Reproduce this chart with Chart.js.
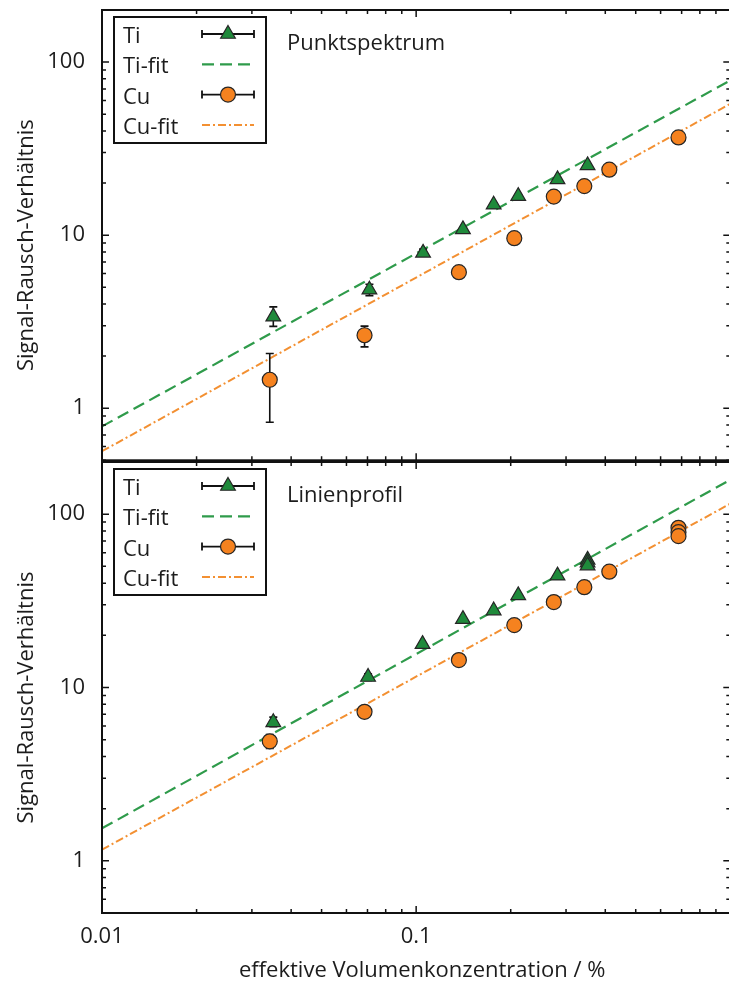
<!DOCTYPE html>
<html>
<head>
<meta charset="utf-8">
<script src="https://cdn.jsdelivr.net/npm/chart.js@4.4.1/dist/chart.umd.min.js"></script>
<style>
    html, body { margin: 0; padding: 0; background: #fff; width: 729px; height: 981px; overflow: hidden; position: relative; }
    #topChart { position: absolute; left: 0; top: 0; }
    #bottomChart { position: absolute; left: 0; top: 452px; }
</style>
</head>
<body>
<canvas id="topChart" width="740" height="470"></canvas>
<canvas id="bottomChart" width="740" height="532"></canvas>
<script>
// ---- data ----
const fitX = [0.01, 1];

// Punktspektrum
const punktTiX = [0.0351, 0.0710, 0.1052, 0.1409, 0.1765, 0.2113, 0.2818, 0.3513];
const punktTi = [3.38, 4.84, 7.9, 10.8, 15.0, 16.8, 21.0, 25.3];
const punktTiLo = [2.97, 4.47, 7.55, null, null, null, null, null];
const punktTiHi = [3.85, 5.2, 8.3, null, null, null, null, null];
const punktCuX = [0.0342, 0.0685, 0.1368, 0.2053, 0.2743, 0.3430, 0.4120, 0.6840];
const punktCu = [1.46, 2.64, 6.11, 9.6, 16.7, 19.2, 23.9, 36.7];
const punktCuLo = [0.83, 2.26, null, null, null, null, null, null];
const punktCuHi = [2.07, 2.98, null, null, null, null, null, null];
const punktTiFit = [0.785, 78.4];
const punktCuFit = [0.564, 57.4];

// Linienprofil
const linTiX = [0.0351, 0.0703, 0.1048, 0.1409, 0.1765, 0.2113, 0.2818, 0.3513, 0.3513, 0.3513];
const linTi = [6.3, 11.5, 17.8, 24.8, 27.8, 34.0, 44.2, 54.5, 52.5, 50.5];
const linTiLo = [5.95, 11.0, null, null, null, null, null, null, null, null];
const linTiHi = [6.75, 12.0, null, null, null, null, null, null, null, null];
const linCuX = [0.0342, 0.0685, 0.1368, 0.2053, 0.2743, 0.3430, 0.4120, 0.684, 0.684, 0.684];
const linCu = [4.89, 7.24, 14.4, 22.9, 31.1, 37.9, 46.6, 83.4, 78.7, 74.7];
const linCuLo = [4.45, 6.7, null, null, null, null, null, null, null, null];
const linCuHi = [5.35, 7.8, null, null, null, null, null, null, null, null];
const linTiFit = [1.54, 158];
const linCuFit = [1.16, 115];

// axes
const xTickValues = [0.01, 0.02, 0.03, 0.04, 0.05, 0.06, 0.07, 0.08, 0.09,
                     0.1, 0.2, 0.3, 0.4, 0.5, 0.6, 0.7, 0.8, 0.9, 1];
const xTickLabels = { '0.01': '0.01', '0.1': '0.1' };
const yTickValues = [0.5, 0.6, 0.7, 0.8, 0.9, 1, 2, 3, 4, 5, 6, 7, 8, 9,
                     10, 20, 30, 40, 50, 60, 70, 80, 90, 100, 200];
const yTickLabels = { '1': '1', '10': '10', '100': '100' };
const legendOrder = ['Ti', 'Ti-fit', 'Cu', 'Cu-fit'];
const xTitle = 'effektive Volumenkonzentration / %';
const yTitle = 'Signal-Rausch-Verhältnis';

// colours
const TI_FILL = '#1f8a3b';
const TI_LINE = '#2f9b4b';
const CU_FILL = '#f5821f';
const CU_LINE = '#f39032';
const EDGE = '#262626';
const INK = '#1c1c1c';
const FONT = '"Open Sans", "Noto Sans", sans-serif';

Chart.defaults.font.family = FONT;
Chart.defaults.font.size = 22;
Chart.defaults.color = INK;

const isDecade = v => Math.abs(Math.log10(v) - Math.round(Math.log10(v))) < 1e-6;
const toPoints = (xs, ys) => xs.map((x, i) => ({ x: x, y: ys[i] }));

/**
 * Error bars drawn just before the markers of a dataset
 */
const errorBarPlugin = {
    id: 'errorBars',
    beforeDatasetDraw(chart, args) {
        const ds = chart.data.datasets[args.index];
        if (!ds.errLo) return;
        const { ctx, scales: { x, y } } = chart;
        ctx.save();
        ctx.strokeStyle = '#111';
        ctx.lineWidth = 1.6;
        ctx.beginPath();
        ds.data.forEach((p, i) => {
            if (ds.errLo[i] == null) return;
            const px = x.getPixelForValue(p.x);
            const lo = y.getPixelForValue(ds.errLo[i]);
            const hi = y.getPixelForValue(ds.errHi[i]);
            ctx.moveTo(px, lo); ctx.lineTo(px, hi);
            ctx.moveTo(px - 4, lo); ctx.lineTo(px + 4, lo);
            ctx.moveTo(px - 4, hi); ctx.lineTo(px + 4, hi);
        });
        ctx.stroke();
        ctx.restore();
    }
};

/**
 * Frame with inward ticks on all four sides
 */
const framePlugin = {
    id: 'frameTicks',
    afterDatasetsDraw(chart) {
        const { ctx, chartArea: a, scales: { x, y } } = chart;
        ctx.save();
        ctx.strokeStyle = '#111';
        ctx.lineWidth = 1.5;
        ctx.beginPath();
        x.ticks.forEach(t => {
            const px = x.getPixelForValue(t.value);
            const len = isDecade(t.value) ? 7 : 4;
            ctx.moveTo(px, a.bottom); ctx.lineTo(px, a.bottom - len);
            ctx.moveTo(px, a.top); ctx.lineTo(px, a.top + len);
        });
        y.ticks.forEach(t => {
            const py = y.getPixelForValue(t.value);
            const len = isDecade(t.value) ? 7 : 4;
            ctx.moveTo(a.left, py); ctx.lineTo(a.left + len, py);
            ctx.moveTo(a.right, py); ctx.lineTo(a.right - len, py);
        });
        ctx.stroke();
        ctx.lineWidth = 2;
        ctx.strokeRect(a.left, a.top, a.right - a.left, a.bottom - a.top);
        ctx.restore();
    }
};

/**
 * Boxed legend (text left, sample right), panel caption and axis titles
 */
const legendPlugin = {
    id: 'boxLegend',
    afterDraw(chart, args, opts) {
        const { ctx, chartArea: a } = chart;
        const x0 = a.left + 12, y0 = a.top + 7, w = 152, h = 126;
        ctx.save();
        ctx.fillStyle = '#fff';
        ctx.fillRect(x0, y0, w, h);
        ctx.strokeStyle = '#111';
        ctx.lineWidth = 2;
        ctx.strokeRect(x0, y0, w, h);
        ctx.font = '22px ' + FONT;
        ctx.textBaseline = 'alphabetic';
        legendOrder.forEach((name, i) => {
            const ds = chart.data.datasets.find(d => d.label === name);
            const base = y0 + 26 + i * 30.3;
            ctx.fillStyle = INK;
            ctx.textAlign = 'left';
            ctx.fillText(name, x0 + 9, base);
            const cy = base - 9, sx1 = x0 + 88, sx2 = x0 + 140;
            ctx.beginPath();
            if (ds.showLine) {
                ctx.strokeStyle = ds.borderColor;
                ctx.lineWidth = ds.borderWidth;
                ctx.setLineDash(ds.borderDash);
                ctx.moveTo(sx1, cy); ctx.lineTo(sx2, cy);
                ctx.stroke();
                ctx.setLineDash([]);
            } else {
                ctx.strokeStyle = '#111';
                ctx.lineWidth = 1.8;
                ctx.moveTo(sx1, cy); ctx.lineTo(sx2, cy);
                ctx.moveTo(sx1, cy - 4); ctx.lineTo(sx1, cy + 4);
                ctx.moveTo(sx2, cy - 4); ctx.lineTo(sx2, cy + 4);
                ctx.stroke();
                ctx.fillStyle = ds.backgroundColor;
                ctx.strokeStyle = ds.borderColor;
                ctx.lineWidth = ds.borderWidth;
                Chart.helpers.drawPoint(ctx, {
                    pointStyle: ds.pointStyle, radius: ds.pointRadius,
                    borderWidth: ds.borderWidth, rotation: 0
                }, (sx1 + sx2) / 2, cy);
            }
        });
        // caption
        ctx.fillStyle = INK;
        ctx.textAlign = 'left';
        ctx.fillText(opts.caption, a.left + 185, a.top + 39.5);
        // y title, rotated
        ctx.save();
        ctx.translate(33, (a.top + a.bottom) / 2 + 10);
        ctx.rotate(-Math.PI / 2);
        ctx.textAlign = 'center';
        ctx.fillText(yTitle, 0, 0);
        ctx.restore();
        // x title (bottom panel only)
        if (opts.showX) {
            ctx.textAlign = 'center';
            ctx.fillText(xTitle, (a.left + a.right) / 2 + 6, a.bottom + 64);
        }
        ctx.restore();
    }
};

function makeAxes(showX) {
    return {
        x: {
            type: 'logarithmic',
            min: 0.01,
            max: 1,
            grid: { display: false, drawTicks: false },
            border: { display: false },
            afterBuildTicks: s => { s.ticks = xTickValues.map(v => ({ value: v })); },
            afterFit: s => {
                s.height = showX ? 71 : 0;
                s.paddingLeft = 0;
                s.paddingRight = 0;
            },
            ticks: {
                display: showX,
                autoSkip: false,
                maxRotation: 0,
                padding: 11,
                callback: v => xTickLabels[String(v)] || ''
            }
        },
        y: {
            type: 'logarithmic',
            min: 0.5,
            max: 200,
            grid: { display: false, drawTicks: false },
            border: { display: false },
            afterBuildTicks: s => { s.ticks = yTickValues.map(v => ({ value: v })); },
            afterFit: s => {
                s.width = 102;
                s.paddingTop = 0;
                s.paddingBottom = 0;
            },
            ticks: {
                autoSkip: false,
                padding: 17,
                callback: v => yTickLabels[String(v)] || ''
            }
        }
    };
}

function makePanel(canvasId, p) {
    return new Chart(document.getElementById(canvasId), {
        type: 'scatter',
        data: {
            datasets: [
                {
                    label: 'Ti', data: toPoints(p.tiX, p.ti), errLo: p.tiLo, errHi: p.tiHi,
                    pointStyle: 'triangle', pointRadius: 8.5, backgroundColor: TI_FILL,
                    borderColor: EDGE, borderWidth: 1.2, showLine: false, order: 1
                },
                {
                    label: 'Cu', data: toPoints(p.cuX, p.cu), errLo: p.cuLo, errHi: p.cuHi,
                    pointStyle: 'circle', pointRadius: 7.5, backgroundColor: CU_FILL,
                    borderColor: EDGE, borderWidth: 1.2, showLine: false, order: 1
                },
                {
                    label: 'Ti-fit', data: toPoints(fitX, p.tiFit), showLine: true,
                    borderColor: TI_LINE, borderWidth: 2.2, borderDash: [12, 6],
                    pointRadius: 0, order: 2
                },
                {
                    label: 'Cu-fit', data: toPoints(fitX, p.cuFit), showLine: true,
                    borderColor: CU_LINE, borderWidth: 2, borderDash: [8, 3, 2, 3],
                    pointRadius: 0, order: 2
                }
            ]
        },
        options: {
            responsive: false,
            animation: false,
            devicePixelRatio: 1,
            layout: { padding: { left: 0, top: 10, right: 6, bottom: p.showX ? 0 : 8 } },
            plugins: {
                legend: { display: false },
                tooltip: { enabled: false },
                boxLegend: { caption: p.caption, showX: p.showX }
            },
            scales: makeAxes(p.showX)
        },
        plugins: [errorBarPlugin, framePlugin, legendPlugin]
    });
}

makePanel('topChart', {
    caption: 'Punktspektrum', showX: false,
    tiX: punktTiX, ti: punktTi, tiLo: punktTiLo, tiHi: punktTiHi,
    cuX: punktCuX, cu: punktCu, cuLo: punktCuLo, cuHi: punktCuHi,
    tiFit: punktTiFit, cuFit: punktCuFit
});

makePanel('bottomChart', {
    caption: 'Linienprofil', showX: true,
    tiX: linTiX, ti: linTi, tiLo: linTiLo, tiHi: linTiHi,
    cuX: linCuX, cu: linCu, cuLo: linCuLo, cuHi: linCuHi,
    tiFit: linTiFit, cuFit: linCuFit
});
</script>
</body>
</html>
